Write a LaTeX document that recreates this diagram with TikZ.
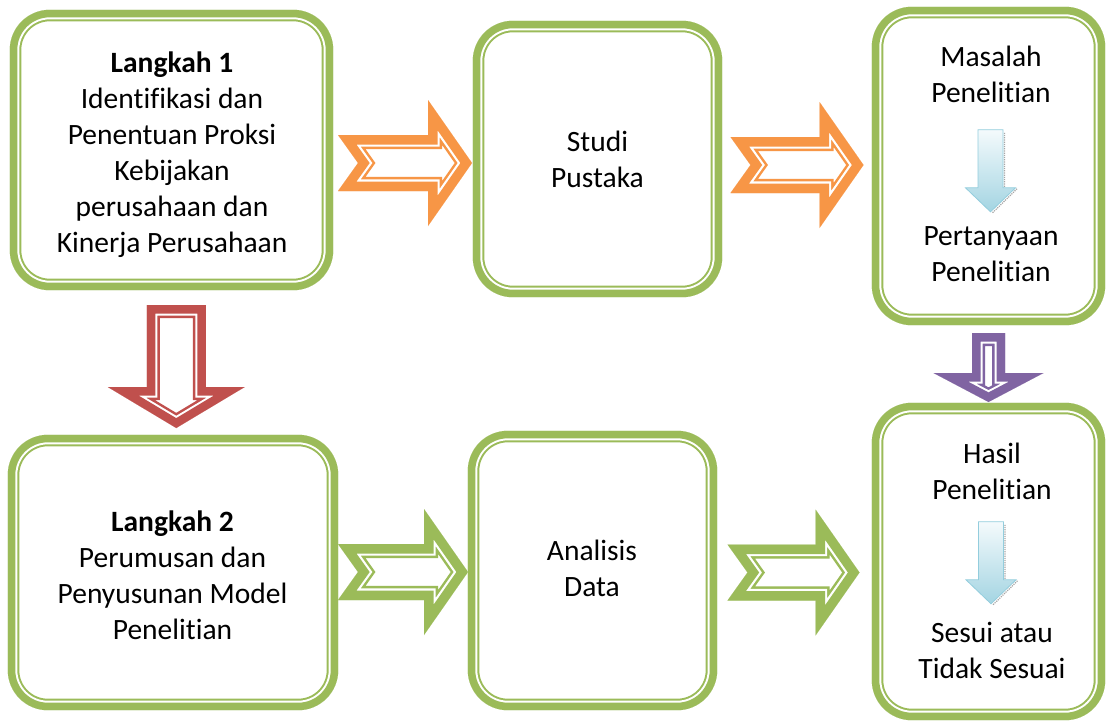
\documentclass[tikz,border=0pt]{standalone}
\usepackage{fontspec}
\setmainfont[Ligatures=NoCommon]{Carlito}
\usetikzlibrary{calc}

\definecolor{boxgreen}{HTML}{9BBB59}
\definecolor{arrorange}{HTML}{F79646}
\definecolor{arrred}{HTML}{C0504D}
\definecolor{arrpurple}{HTML}{8064A2}
\definecolor{arrblue}{HTML}{93CDDD}
\definecolor{arrbluelight}{HTML}{F4FAFC}

% thick-thin border drawn inside a closed path:
% #1 colour, #2 outer band, #3 white gap, #4 thin line, #5 closed path
\newcommand\ttborder[5]{%
  \begin{scope}
    \clip #5;
    \draw[#1, line join=miter, line width={2*(#2+#3+#4)}] #5;
    \draw[white, line join=miter, line width={2*(#2+#3)}] #5;
    \draw[#1, line join=miter, line width={2*#2}] #5;
  \end{scope}}

% notched block arrow pointing right, centred between two boxes
% #1 colour, #2 from, #3 to, #4 dx, #5 dy, #6 length
\newcommand\harrow[6]{%
  \begin{scope}[shift={($(#2.east)!0.5!(#3.west)+(#4,#5)$)}]
    \ttborder{#1}{9.5}{2.2}{2.5}{(-#6/2,-28) -- (#6/2-44,-28) -- (#6/2-44,-63)
      -- (#6/2,0) -- (#6/2-44,63) -- (#6/2-44,28) -- (-#6/2,28) -- (-#6/2+20,0) -- cycle}
  \end{scope}}

% flat-topped block arrow pointing down
% #1 colour, #2 from, #3 to, #4 dx, #5 dy, #6 shaft half width,
% #7 head half width, #8 length, #9 head length
\newcommand\varrow[9]{%
  \begin{scope}[shift={($(#2.south)!0.5!(#3.north)+(#4,#5)$)}]
    \ttborder{#1}{8.5}{2}{2.5}{(-#6,-#8/2) -- (#6,-#8/2) -- (#6,#8/2-#9) -- (#7,#8/2-#9)
      -- (0,#8/2) -- (-#7,#8/2-#9) -- (-#6,#8/2-#9) -- cycle}
  \end{scope}}

% small shaded arrow inside a box, top centre given
\newcommand\bluearrow[1]{%
  \begin{scope}[shift={#1}]
    \draw[gray!70, densely dotted, line width=1.2pt]
      (14,3) -- (14,58) (26.5,59) -- (1.5,83.5);
    \path[draw=arrblue, line width=0.8pt, top color=arrbluelight, bottom color=arrblue!85]
      (-12.5,0) -- (12.5,0) -- (12.5,58) -- (25,58) -- (0,82) -- (-25,58) -- (-12.5,58) -- cycle;
  \end{scope}}

\begin{document}
\begin{tikzpicture}[x=1pt, y=-1pt,
  stepbox/.style={minimum width=#1, inner sep=0pt, draw=none},
  txt/.style={align=center, inner sep=0pt, font=\fontsize{29.5}{36}\selectfont}]

\fill[white] (0,0) rectangle (1108,723);
\useasboundingbox (0,0) rectangle (1108,723);

% boxes
\node[stepbox=323pt, minimum height=280pt] (b1) at (171.5,150) {};
\node[stepbox=249pt, minimum height=276pt] (b2) at (597.5,159) {};
\node[stepbox=233pt, minimum height=318pt] (b3) at (988.5,166) {};
\node[stepbox=330pt, minimum height=275pt] (b4) at (173,572.5) {};
\node[stepbox=249pt, minimum height=279pt] (b5) at (592.5,570.5) {};
\node[stepbox=233pt, minimum height=317pt] (b6) at (988.5,561.5) {};

\foreach \b in {b1,b2,b3,b4,b5,b6}{
  \ttborder{boxgreen}{7.5}{2}{2}{[rounded corners=40pt] (\b.north west) rectangle (\b.south east)}
}

% connectors between boxes
\harrow{arrorange}{b1}{b2}{2}{8.5}{134}
\harrow{arrorange}{b2}{b3}{0}{2.5}{133}
\harrow{boxgreen}{b4}{b5}{0}{0.5}{130}
\harrow{boxgreen}{b5}{b6}{-1}{6.5}{132}
\varrow{arrred}{b1}{b4}{4}{4}{29.5}{68.5}{123}{41}
\varrow{arrpurple}{b3}{b6}{0}{3.5}{16.5}{55}{69}{29}

% texts
\node[txt] (t1) at (172,154.3) {\textbf{Langkah 1}\\Identifikasi dan\\Penentuan Proksi\\Kebijakan\\perusahaan dan\\Kinerja Perusahaan};
\node[txt] (t2) at (597.5,159.7) {Studi\\Pustaka};
\node[txt] (t3a) at (991,74) {Masalah\\Penelitian};
\node[txt] (t3b) at (991,254) {Pertanyaan\\Penelitian};
\node[txt] (t4) at (172.5,575.5) {\textbf{Langkah 2}\\Perumusan dan\\Penyusunan Model\\Penelitian};
\node[txt] (t5) at (592,568.5) {Analisis\\Data};
\node[txt] (t6a) at (992,471) {Hasil\\Penelitian};
\node[txt] (t6b) at (992,650) {Sesui atau\\Tidak Sesuai};

% arrows inside the right-hand boxes
\bluearrow{($(b3.north)+(2,123)$)}
\bluearrow{($(b6.north)+(2.5,119)$)}

\end{tikzpicture}
\end{document}
